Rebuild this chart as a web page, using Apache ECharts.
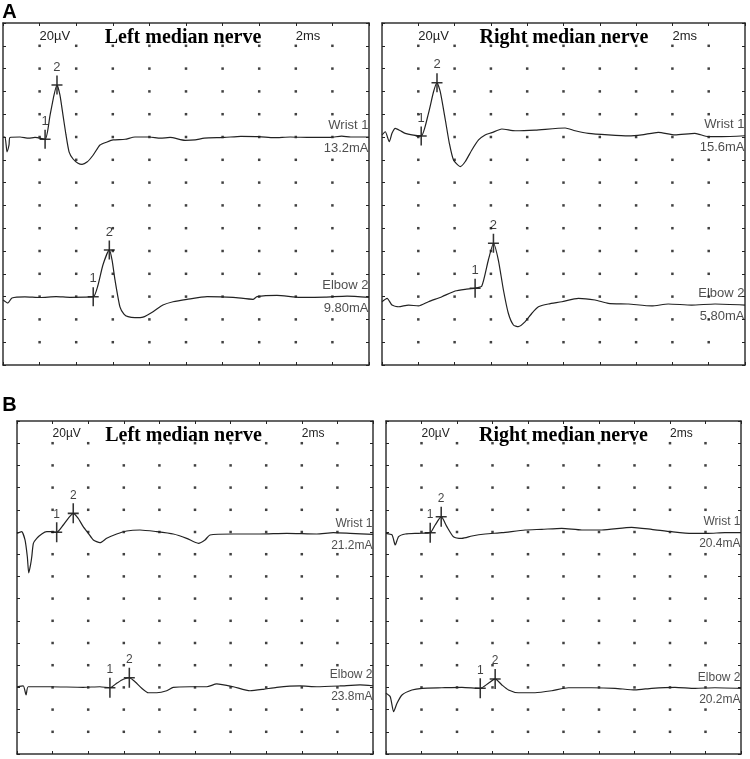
<!DOCTYPE html>
<html>
<head>
<meta charset="utf-8">
<script src="https://cdn.jsdelivr.net/npm/echarts@6/dist/echarts.min.js"></script>
<style>
  html, body { margin: 0; padding: 0; background: #fff; }
  #myEcharts { width: 750px; height: 759px; }
</style>
</head>
<body>
<div id="myEcharts"></div>
<script>
// screen: 10 divisions of 2 ms across, 15 divisions of 20 µV down
const xTicks = [0, 2, 4, 6, 8, 10, 12, 14, 16, 18, 20];
const yTicks = [0, 20, 40, 60, 80, 100, 120, 140, 160, 180, 200, 220, 240, 260, 280, 300];

const panelTitles = ['Left median nerve', 'Right median nerve', 'Left median nerve', 'Right median nerve'];
const siteLabels = ['Wrist 1', 'Elbow 2'];
const currents = [['13.2mA', '9.80mA'], ['15.6mA', '5.80mA'], ['21.2mA', '23.8mA'], ['20.4mA', '20.2mA']];

// traces, [ms, µV]
const aLeftWrist = [[0, 200], [0.11, 200], [0.22, 187], [0.33, 193], [0.38, 199.6], [0.93, 200], [1.4, 199], [1.75, 199.6],
  [2.30, 198], [2.57, 219], [2.79, 237], [2.95, 245.6], [3.11, 237], [3.28, 219], [3.44, 202], [3.61, 187], [3.83, 180.7],
  [4.1, 177], [4.32, 176], [4.59, 178], [4.92, 184], [5.3, 193], [5.68, 195.6], [6.01, 197.4], [6.67, 198], [7.21, 200],
  [8.0, 200], [8.6, 199], [9.13, 199.6], [9.95, 197], [10.5, 197.4], [11.0, 199], [12.1, 199.6], [13.0, 200.6], [14.0, 200.4],
  [14.8, 199.4], [15.7, 200], [16.8, 199.6], [17.9, 199.6], [18.5, 200.8], [19.0, 200], [20, 200]];
const aLeftElbow = [[0, 57], [0.27, 54.4], [0.49, 58.8], [1.2, 59.8], [2.02, 59.2], [2.9, 60], [3.66, 59.4], [4.93, 59.9],
  [5.19, 70], [5.46, 87.7], [5.81, 100.9], [5.96, 92], [6.12, 74.6], [6.39, 51], [6.61, 44.7], [6.83, 42.4], [7.21, 41.5],
  [7.65, 42], [8.2, 46.8], [8.74, 52.6], [9.29, 55.5], [10.05, 57.6], [11.15, 60], [12.57, 59.4], [13.66, 57.6], [13.88, 60],
  [14.97, 61.1], [16.23, 59.4], [17.6, 59.6], [18.8, 60.5], [20, 59.4]];
const aRightWrist = [[0, 201.8], [0.18, 204.6], [0.40, 195.9], [0.55, 203.2], [0.73, 207.6], [1.01, 205.5], [1.28, 203.2],
  [1.65, 201.8], [2.16, 200.9], [2.56, 220.8], [2.84, 239.7], [3.03, 247.6], [3.21, 239.7], [3.49, 214.9], [3.71, 194.5],
  [3.94, 179.8], [4.31, 174], [4.58, 178.3], [4.95, 188.6], [5.32, 197.4], [5.68, 201.8], [6.05, 203.8], [6.6, 207],
  [7.34, 205.5], [8.44, 206.1], [10.09, 207.9], [10.64, 205.5], [11.37, 203.2], [12.47, 201.8], [13.57, 200.9],
  [14.31, 201.8], [15.22, 204.1], [16.14, 201.8], [17.24, 203.2], [17.97, 200.3], [18.71, 200.3], [20, 201.1]];
const aRightElbow = [[0, 55.5], [0.28, 58.5], [0.55, 52.6], [0.91, 51.1], [1.46, 52.6], [2.01, 51.8], [2.56, 55.5],
  [3.30, 59.9], [4.03, 64.9], [4.58, 66.4], [5.13, 67.3], [5.5, 69.3], [5.86, 92.1], [6.14, 106.8], [6.41, 92.1],
  [6.69, 65.8], [6.96, 45.4], [7.24, 35.1], [7.51, 33.6], [7.89, 38], [8.26, 45.4], [8.62, 51.1], [9.17, 53.5],
  [9.91, 55.5], [10.82, 58.5], [11.74, 57], [12.47, 54.1], [13.57, 53.5], [14.86, 51.8], [15.77, 53.5], [17.06, 52.6],
  [18.35, 53.5], [20, 52.6]];
const bLeftWrist = [[0, 198.8], [0.26, 200.3], [0.45, 192.8], [0.58, 177.7], [0.66, 163.1], [0.76, 170.3], [0.83, 177.7],
  [0.92, 189.8], [1.11, 194.3], [1.39, 198.2], [1.67, 200.3], [1.95, 200.3], [2.23, 199.7], [2.6, 206.3], [2.88, 212.3],
  [3.16, 216.8], [3.44, 212.3], [3.72, 204.8], [4.01, 198.8], [4.29, 192.8], [4.66, 190.4], [5.04, 194.3], [5.6, 198.2],
  [6.16, 200.9], [6.91, 201.8], [7.85, 200.3], [8.78, 198.2], [9.53, 194.3], [10.19, 189.8], [10.56, 192.8], [10.84, 197.3],
  [12.15, 198.2], [13.65, 198.2], [15.15, 198.8], [16.84, 198.2], [17.77, 199.4], [18.71, 198.8], [20, 197.9]];
const bLeftElbow = [[0, 60.6], [0.35, 61.3], [0.51, 53.2], [0.63, 60.6], [1.85, 60.6], [3.72, 60.1], [4.66, 60.6],
  [5.22, 59.7], [5.6, 63.7], [5.97, 67.3], [6.31, 68.7], [6.63, 65.1], [7.01, 59.2], [7.38, 55.2], [7.85, 55.2], [8.41, 57],
  [8.78, 60.1], [9.72, 60.6], [10.66, 60.6], [11.22, 63.1], [12.15, 60.6], [13.09, 57], [13.84, 58.3], [14.59, 60.1],
  [15.9, 61.3], [16.84, 60.6], [18.15, 61.3], [19.27, 62.2], [20, 61.5]];
const bRightWrist = [[0, 198.8], [0.34, 197.3], [0.52, 188.3], [0.71, 195.8], [1.09, 198.2], [1.83, 198.8], [2.49, 199.4],
  [2.77, 206.3], [3.11, 213.8], [3.43, 204.8], [3.8, 195.8], [4.28, 194.3], [4.84, 196.4], [5.59, 198.2], [6.53, 199.4],
  [7.84, 201.8], [8.78, 202.4], [9.9, 203.3], [11.03, 201.8], [12.16, 201.8], [13.84, 204.2], [14.97, 202.4], [16.09, 200.3],
  [17.22, 198.8], [18.15, 198.8], [19.09, 199.4], [20, 199.4]];
const bRightElbow = [[0, 54.7], [0.24, 51.6], [0.43, 38.1], [0.62, 45.7], [0.9, 53.2], [1.46, 57.7], [2.03, 59.2],
  [3.15, 59.7], [4.28, 60.1], [5.31, 59.2], [5.77, 63.7], [6.15, 67.6], [6.53, 62.2], [6.9, 57.7], [7.46, 55.2], [8.4, 55.2],
  [9.34, 57], [10.28, 59.7], [11.59, 59.7], [12.9, 59.2], [14.03, 57.7], [14.97, 59.2], [16.28, 60.1], [17.41, 59.2],
  [18.53, 59.7], [20, 59.2]];

// cursors 1 (onset) and 2 (peak)
const aLeftWristMarks = [[2.30, 198], [2.95, 245.6]];
const aLeftElbowMarks = [[4.93, 59.9], [5.81, 100.9]];
const aRightWristMarks = [[2.16, 200.9], [3.03, 247.6]];
const aRightElbowMarks = [[5.13, 67.3], [6.14, 106.8]];
const bLeftWristMarks = [[2.23, 199.7], [3.16, 216.8]];
const bLeftElbowMarks = [[5.22, 59.7], [6.31, 68.7]];
const bRightWristMarks = [[2.49, 199.4], [3.11, 213.8]];
const bRightElbowMarks = [[5.31, 59.2], [6.15, 67.6]];

const panels = [
  { box: { left: 3, top: 23, width: 366, height: 342 }, titleX: 183, font: 13, lh: 11.5,
    traces: [aLeftWrist, aLeftElbow], marks: [aLeftWristMarks, aLeftElbowMarks] },
  { box: { left: 382, top: 23, width: 363, height: 342 }, titleX: 564, font: 13, lh: 11.5,
    traces: [aRightWrist, aRightElbow], marks: [aRightWristMarks, aRightElbowMarks] },
  { box: { left: 17, top: 421, width: 356, height: 333 }, titleX: 183.5, font: 12, lh: 11,
    traces: [bLeftWrist, bLeftElbow], marks: [bLeftWristMarks, bLeftElbowMarks] },
  { box: { left: 386, top: 421, width: 355, height: 333 }, titleX: 563.5, font: 12, lh: 11,
    traces: [bRightWrist, bRightElbow], marks: [bRightWristMarks, bRightElbowMarks] }
];

const lineColor = '#222';
const crossPath = 'path://M4.3,0H5.7V18H4.3ZM0,8.3H10V9.7H0Z';

// dots at every inner division crossing
const dots = [];
for (let i = 1; i < xTicks.length - 1; i++) {
  for (let j = 1; j < yTicks.length - 1; j++) {
    dots.push([xTicks[i], yTicks[j]]);
  }
}

function frameAxis(pos, isX) {
  return {
    type: 'value',
    position: pos,
    min: isX ? xTicks[0] : yTicks[0],
    max: isX ? xTicks[xTicks.length - 1] : yTicks[yTicks.length - 1],
    interval: isX ? 2 : 20,
    axisLine: { show: true, onZero: false, lineStyle: { color: '#333', width: 1.5 } },
    axisTick: { show: true, inside: true, length: 3, lineStyle: { color: '#222' } },
    axisLabel: { show: false },
    splitLine: { show: false }
  };
}

const grid = [], xAxis = [], yAxis = [], series = [], graphic = [];

panels.forEach((p, g) => {
  grid.push(Object.assign({ containLabel: false }, p.box));
  xAxis.push(Object.assign({ gridIndex: g }, frameAxis('bottom', true)));
  xAxis.push(Object.assign({ gridIndex: g }, frameAxis('top', true)));
  yAxis.push(Object.assign({ gridIndex: g }, frameAxis('left', false)));
  yAxis.push(Object.assign({ gridIndex: g }, frameAxis('right', false)));
  const ax = { xAxisIndex: 2 * g, yAxisIndex: 2 * g };

  series.push(Object.assign({
    type: 'scatter', data: dots, symbol: 'rect', symbolSize: 2.5,
    itemStyle: { color: '#111' }, silent: true
  }, ax));

  p.traces.forEach((tr, k) => {
    series.push(Object.assign({
      type: 'line', data: tr, showSymbol: false, smooth: 0.2,
      lineStyle: { color: lineColor, width: 1.2 }, silent: true
    }, ax));
    series.push(Object.assign({
      type: 'scatter', data: p.marks[k], symbol: crossPath,
      symbolSize: g < 2 ? [11, 19] : [11, 20],
      itemStyle: { color: '#000' }, silent: true, clip: false,
      label: {
        show: true, position: 'top', distance: 2,
        formatter: (d) => String(d.dataIndex + 1),
        fontFamily: 'Liberation Sans', fontSize: p.font, color: '#111'
      }
    }, ax));
  });

  // site name above the trace end, stimulus current below
  series.push(Object.assign({
    type: 'scatter',
    data: p.traces.map(tr => tr[tr.length - 1]),
    symbolSize: 1, itemStyle: { color: 'transparent' }, silent: true, clip: false,
    label: {
      show: true, position: 'left', distance: 0, align: 'right',
      formatter: (d) => siteLabels[d.dataIndex] + '\n\n' + currents[g][d.dataIndex],
      fontFamily: 'Liberation Sans', fontSize: p.font, lineHeight: p.lh, color: '#222'
    }
  }, ax));

  const b = p.box;
  const small = p.font + 'px "Liberation Sans"';
  graphic.push({ type: 'text', x: b.left + b.width * 0.1, y: b.top + 13,
    style: { text: '20µV', font: small, fill: '#222', align: 'left', verticalAlign: 'middle' } });
  graphic.push({ type: 'text', x: b.left + b.width * 0.8, y: b.top + 13,
    style: { text: '2ms', font: small, fill: '#222', align: 'left', verticalAlign: 'middle' } });
  graphic.push({ type: 'text', x: p.titleX, y: b.top + 15,
    style: { text: panelTitles[g], font: 'bold 20px "Liberation Serif"', fill: '#000', align: 'center', verticalAlign: 'middle' } });
});

graphic.push({ type: 'text', x: 9.5, y: 12,
  style: { text: 'A', font: 'bold 20px "Liberation Sans"', fill: '#000', align: 'center', verticalAlign: 'middle' } });
graphic.push({ type: 'text', x: 9.5, y: 405,
  style: { text: 'B', font: 'bold 20px "Liberation Sans"', fill: '#000', align: 'center', verticalAlign: 'middle' } });

let chart = echarts.init(document.getElementById('myEcharts'));
chart.setOption({
  animation: false,
  backgroundColor: '#fff',
  grid: grid,
  xAxis: xAxis,
  yAxis: yAxis,
  series: series,
  graphic: graphic
});
</script>
</body>
</html>
